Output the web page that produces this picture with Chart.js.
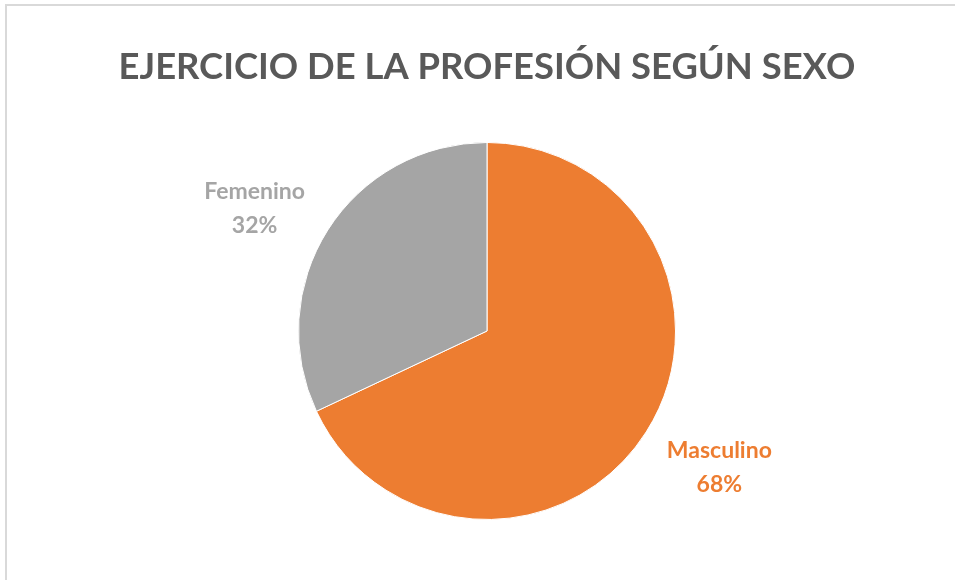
<!DOCTYPE html>
<html>
<head>
<meta charset="utf-8">
<script src="https://cdn.jsdelivr.net/npm/chart.js@4"></script>
<style>
  html, body { margin: 0; padding: 0; background: #fff; overflow: hidden; }
  #frame { position: absolute; left: 5px; top: 4px; width: 960px; height: 590px; border: 2px solid #D9D9D9; box-sizing: border-box; }
  #wrap { position: absolute; left: 0; top: 0; width: 955px; height: 580px; }
</style>
</head>
<body>
<div id="frame"></div>
<div id="wrap"><canvas id="pie-chart"></canvas></div>
<script>
// Chart data
const categories = ['Masculino', 'Femenino'];
const shares = [68, 32];
const sliceColors = ['#ED7D31', '#A5A5A5'];
const chartTitle = 'EJERCICIO DE LA PROFESIÓN SEGÚN SEXO';

// Draws "category / percent" labels outside each slice, in the slice colour
const outsideLabels = {
  id: 'outsideLabels',
  afterDatasetsDraw(chart) {
    const ctx = chart.ctx;
    const meta = chart.getDatasetMeta(0);
    const values = chart.data.datasets[0].data;
    const total = values.reduce((a, b) => a + b, 0);
    ctx.save();
    ctx.font = 'bold 23px Lato';
    ctx.textAlign = 'center';
    ctx.textBaseline = 'middle';
    meta.data.forEach((arc, i) => {
      const p = arc.getProps(['x', 'y', 'startAngle', 'endAngle', 'outerRadius'], true);
      const mid = (p.startAngle + p.endAngle) / 2;
      // labels sit on a slightly flattened ring outside the pie
      const lx = p.x + Math.cos(mid) * p.outerRadius * 1.46;
      const ly = p.y + Math.sin(mid) * p.outerRadius * 1.28;
      ctx.fillStyle = sliceColors[i];
      ctx.fillText(chart.data.labels[i], lx, ly - 10);
      ctx.fillText(Math.round(values[i] / total * 100) + '%', lx, ly + 24);
    });
    ctx.restore();
  }
};

const canvas = document.getElementById('pie-chart');
new Chart(canvas.getContext('2d'), {
  type: 'pie',
  data: {
    labels: categories,
    datasets: [{
      data: shares,
      backgroundColor: sliceColors,
      borderColor: '#fff',
      borderWidth: 1
    }]
  },
  options: {
    responsive: true,
    maintainAspectRatio: false,
    animation: false,
    layout: { padding: { left: 19, right: 0, top: 0, bottom: 60 } },
    plugins: {
      legend: { display: false },
      tooltip: { enabled: false },
      title: {
        display: true,
        text: chartTitle,
        color: '#595959',
        font: { family: 'Lato', size: 36.4, weight: 'bold', lineHeight: 1.2 },
        padding: { top: 45, bottom: 53.3 }
      }
    }
  },
  plugins: [outsideLabels]
});
</script>
</body>
</html>
